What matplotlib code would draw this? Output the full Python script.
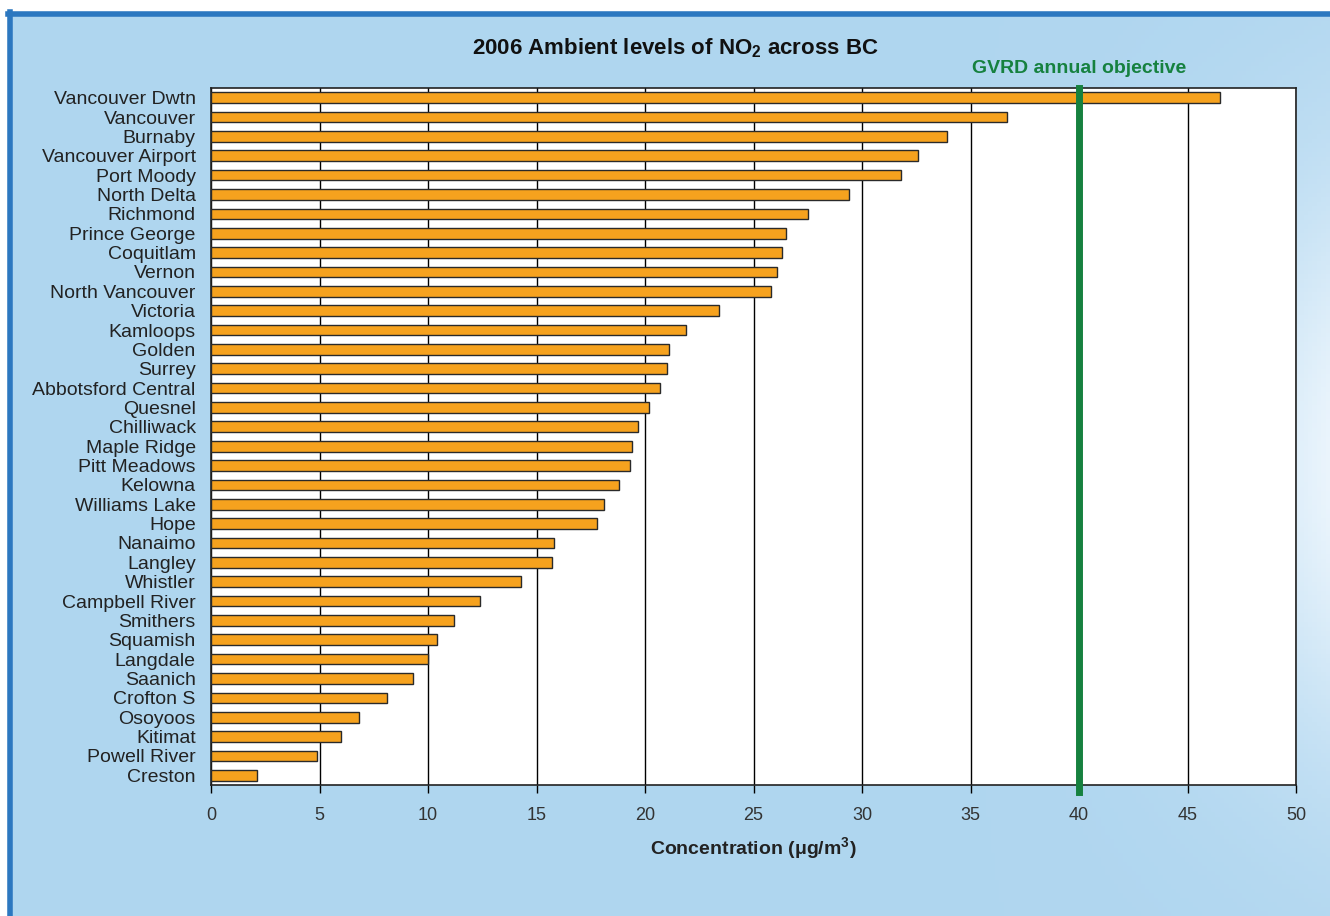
import numpy as np
import matplotlib.pyplot as plt

plt.rcParams['font.family'] = ['Liberation Sans', 'DejaVu Sans']

# station names, top to bottom
stations = ['Vancouver Dwtn', 'Vancouver', 'Burnaby', 'Vancouver Airport', 'Port Moody',
            'North Delta', 'Richmond', 'Prince George', 'Coquitlam', 'Vernon',
            'North Vancouver', 'Victoria', 'Kamloops', 'Golden', 'Surrey',
            'Abbotsford Central', 'Quesnel', 'Chilliwack', 'Maple Ridge', 'Pitt Meadows',
            'Kelowna', 'Williams Lake', 'Hope', 'Nanaimo', 'Langley',
            'Whistler', 'Campbell River', 'Smithers', 'Squamish', 'Langdale',
            'Saanich', 'Crofton S', 'Osoyoos', 'Kitimat', 'Powell River', 'Creston']
# annual mean NO2, ug/m3
no2 = [46.5, 36.7, 33.9, 32.6, 31.8,
       29.4, 27.5, 26.5, 26.3, 26.1,
       25.8, 23.4, 21.9, 21.1, 21.0,
       20.7, 20.2, 19.7, 19.4, 19.3,
       18.8, 18.1, 17.8, 15.8, 15.7,
       14.3, 12.4, 11.2, 10.4, 10.0,
       9.3, 8.1, 6.8, 6.0, 4.9, 2.1]
gvrd_objective = 40
x_ticks = [0, 5, 10, 15, 20, 25, 30, 35, 40, 45, 50]

W, H = 1330, 916
fig = plt.figure(figsize=(W / 100, H / 100), dpi=100)
fig.patch.set_facecolor('white')

# blue panel background with a light glow along the right edge
bg = fig.add_axes([8 / W, 0, 1 - 8 / W, 1 - 12 / H])
xx, yy = np.meshgrid(np.linspace(0, 1, 300), np.linspace(0, 1, 200))
glow = np.clip((xx - 0.72) / 0.28, 0, 1) ** 2.2 * np.exp(-((yy - 0.5) / 0.32) ** 2)
base = np.array([0.69, 0.84, 0.94])
light = np.array([0.92, 0.96, 0.99])
img = base[None, None, :] + np.clip(glow, 0, 1)[..., None] * (light - base)[None, None, :]
bg.imshow(img, aspect='auto', extent=[0, 1, 0, 1], origin='upper')
bg.set_xlim(0, 1)
bg.set_ylim(0, 1)
bg.axis('off')
# dark blue frame on the left and top
fig.add_artist(plt.Line2D([10 / W, 10 / W], [0, 1 - 12 / H], color='#2c78c0', lw=4,
                          transform=fig.transFigure))
fig.add_artist(plt.Line2D([8 / W, 1], [1 - 14 / H, 1 - 14 / H], color='#2c78c0', lw=4,
                          transform=fig.transFigure))

ax = fig.add_axes([211 / W, 1 - 785 / H, (1296 - 211) / W, (785 - 88) / H])
ax.set_facecolor('white')
y = np.arange(len(stations))
ax.barh(y, no2, height=0.55, color='#f6a21e', edgecolor='#2a2a2a', linewidth=1.0, zorder=3)
ax.set_ylim(len(stations) - 0.5, -0.5)
ax.set_xlim(0, 50)
ax.set_xticks(x_ticks)
ax.set_yticks(y)
ax.set_yticklabels(stations, fontsize=14, color='#222222')
ax.tick_params(axis='y', length=0, pad=11)
ax.tick_params(axis='x', length=6, width=1, direction='out', pad=10,
               labelsize=13, labelcolor='#333333')
ax.grid(axis='x', color='black', linewidth=1, zorder=1)
for sp in ax.spines.values():
    sp.set_color('#222222')
    sp.set_linewidth(1.2)

ax.axvline(gvrd_objective, ymin=-0.01, ymax=1.0, color='#16813f', linewidth=5,
           zorder=4, clip_on=False)
ax.text(gvrd_objective, -1.05, 'GVRD annual objective', color='#16813f', fontsize=14,
        fontweight='bold', ha='center', va='bottom')

ax.set_xlabel(r'Concentration ($\mathregular{\mu}$g/m$^\mathregular{3}$)', fontsize=14,
              fontweight='bold', labelpad=8, color='#222222')
fig.text(675 / W, 1 - 48 / H, r'2006 Ambient levels of NO$_\mathregular{2}$ across BC',
         fontsize=16, fontweight='bold', ha='center', va='center', color='#111111')

fig.savefig('out.png', dpi=100, facecolor=fig.get_facecolor())
